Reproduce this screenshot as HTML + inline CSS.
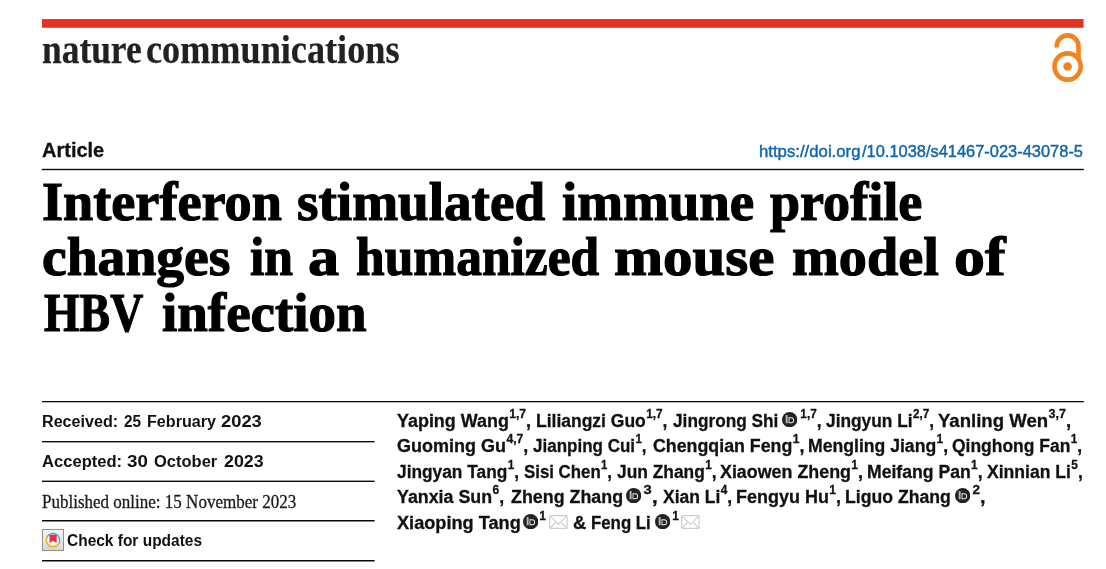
<!DOCTYPE html>
<html><head><meta charset="utf-8"><title>Article</title>
<style>
html,body{margin:0;padding:0;background:#fff;}
body{width:1106px;height:569px;position:relative;overflow:hidden;font-family:"Liberation Sans",sans-serif;}
.w{position:absolute;line-height:1;white-space:nowrap;transform-origin:0 0;}
.r{position:absolute;background:#0a0a0a;}
.w sup{font-size:12.7px;vertical-align:baseline;position:relative;top:-8.9px;line-height:0;margin-left:0.4px;}

</style></head><body>
<svg width="0" height="0" style="position:absolute"><defs>
<symbol id="orc" viewBox="0 0 15 15"><circle cx="7.5" cy="7.5" r="7.5" fill="#222"/><rect x="3.6" y="3" width="1.9" height="8" fill="#b8b8b8"/><path d="M6.4 5.2 H9 A2.9 2.9 0 0 1 9 11 H6.4 Z M7.3 6.1 V10.1 H9 A2 2 0 0 0 9 6.1 Z" fill="#efefef" fill-rule="evenodd"/></symbol>
<symbol id="env" viewBox="0 0 18.9 14.2"><rect x="0.7" y="0.7" width="17.5" height="12.8" rx="1.2" fill="#fff" stroke="#cfcfcf" stroke-width="1.3"/><path d="M1.2 1.2 L9.45 9.4 L17.7 1.2 M1.2 13 L6.4 7.8 M17.7 13 L12.5 7.8" fill="none" stroke="#cfcfcf" stroke-width="1.2"/></symbol>
</defs></svg>
<span class=w style='left:41.84px;top:29.00px;font-family:"Liberation Serif", serif;font-weight:bold;font-size:41px;color:#222;transform:scaleX(0.8632);-webkit-text-stroke:0.25px #222;filter:grayscale(1);'>nature</span>
<span class=w style='left:146.42px;top:29.00px;font-family:"Liberation Serif", serif;font-weight:bold;font-size:41px;color:#222;transform:scaleX(0.8832);-webkit-text-stroke:0.25px #222;filter:grayscale(1);'>communications</span>
<span class=w style='left:42.30px;top:140.00px;font-family:"Liberation Sans", sans-serif;font-weight:bold;font-size:20.2px;color:#111;transform:scaleX(0.9905);-webkit-text-stroke:0.3px #111;'>Article</span>
<span class=w style='left:759.30px;top:144.00px;font-family:"Liberation Sans", sans-serif;font-weight:normal;font-size:16.6px;color:#1267ad;transform:scaleX(1.0090);-webkit-text-stroke:0.45px #1267ad;'>https://doi.org</span>
<span class=w style='left:862.39px;top:144.00px;font-family:"Liberation Sans", sans-serif;font-weight:normal;font-size:16.6px;color:#1267ad;transform:scaleX(0.9897);-webkit-text-stroke:0.45px #1267ad;'>/10.1038/s41467-023-43078-5</span>
<span class=w style='left:42.03px;top:174.00px;font-family:"Liberation Serif", serif;font-weight:bold;font-size:55.8px;color:#000;transform:scaleX(0.9715);-webkit-text-stroke:1.2px #000;filter:grayscale(1);'>Interferon</span>
<span class=w style='left:296.61px;top:174.00px;font-family:"Liberation Serif", serif;font-weight:bold;font-size:55.8px;color:#000;transform:scaleX(0.9880);-webkit-text-stroke:1.2px #000;filter:grayscale(1);'>stimulated</span>
<span class=w style='left:562.30px;top:174.00px;font-family:"Liberation Serif", serif;font-weight:bold;font-size:55.8px;color:#000;transform:scaleX(0.9841);-webkit-text-stroke:1.2px #000;filter:grayscale(1);'>immune</span>
<span class=w style='left:770.30px;top:174.00px;font-family:"Liberation Serif", serif;font-weight:bold;font-size:55.8px;color:#000;transform:scaleX(0.9694);-webkit-text-stroke:1.2px #000;filter:grayscale(1);'>profile</span>
<span class=w style='left:42.40px;top:229.00px;font-family:"Liberation Serif", serif;font-weight:bold;font-size:55.8px;color:#000;transform:scaleX(0.9963);-webkit-text-stroke:1.2px #000;filter:grayscale(1);'>changes</span>
<span class=w style='left:250.10px;top:229.00px;font-family:"Liberation Serif", serif;font-weight:bold;font-size:55.8px;color:#000;transform:scaleX(0.9255);-webkit-text-stroke:1.2px #000;filter:grayscale(1);'>in</span>
<span class=w style='left:307.59px;top:229.00px;font-family:"Liberation Serif", serif;font-weight:bold;font-size:55.8px;color:#000;transform:scaleX(1.1148);-webkit-text-stroke:1.2px #000;filter:grayscale(1);'>a</span>
<span class=w style='left:355.50px;top:229.00px;font-family:"Liberation Serif", serif;font-weight:bold;font-size:55.8px;color:#000;transform:scaleX(0.9227);-webkit-text-stroke:1.2px #000;filter:grayscale(1);'>humanized</span>
<span class=w style='left:614.14px;top:229.00px;font-family:"Liberation Serif", serif;font-weight:bold;font-size:55.8px;color:#000;transform:scaleX(1.0560);-webkit-text-stroke:1.2px #000;filter:grayscale(1);'>mouse</span>
<span class=w style='left:791.99px;top:229.00px;font-family:"Liberation Serif", serif;font-weight:bold;font-size:55.8px;color:#000;transform:scaleX(1.0083);-webkit-text-stroke:1.2px #000;filter:grayscale(1);'>model</span>
<span class=w style='left:953.79px;top:229.00px;font-family:"Liberation Serif", serif;font-weight:bold;font-size:55.8px;color:#000;transform:scaleX(1.1085);-webkit-text-stroke:1.2px #000;filter:grayscale(1);'>of</span>
<span class=w style='left:44.40px;top:285.00px;font-family:"Liberation Serif", serif;font-weight:bold;font-size:55.8px;color:#000;transform:scaleX(0.8207);-webkit-text-stroke:1.2px #000;filter:grayscale(1);'>HBV</span>
<span class=w style='left:161.50px;top:285.00px;font-family:"Liberation Serif", serif;font-weight:bold;font-size:55.8px;color:#000;transform:scaleX(0.9856);-webkit-text-stroke:1.2px #000;filter:grayscale(1);'>infection</span>
<span class=w style='left:42.28px;top:414.00px;font-family:"Liberation Sans", sans-serif;font-weight:bold;font-size:15.8px;color:#111;transform:scaleX(1.0205);'>Received:</span>
<span class=w style='left:123.70px;top:414.00px;font-family:"Liberation Sans", sans-serif;font-weight:bold;font-size:15.8px;color:#111;transform:scaleX(0.9667);'>25</span>
<span class=w style='left:146.88px;top:414.00px;font-family:"Liberation Sans", sans-serif;font-weight:bold;font-size:15.8px;color:#111;transform:scaleX(1.0209);'>February</span>
<span class=w style='left:221.10px;top:414.00px;font-family:"Liberation Sans", sans-serif;font-weight:bold;font-size:15.8px;color:#111;transform:scaleX(1.1600);'>2023</span>
<span class=w style='left:42.30px;top:454.00px;font-family:"Liberation Sans", sans-serif;font-weight:bold;font-size:15.8px;color:#111;transform:scaleX(1.0493);'>Accepted:</span>
<span class=w style='left:127.10px;top:454.00px;font-family:"Liberation Sans", sans-serif;font-weight:bold;font-size:15.8px;color:#111;transform:scaleX(1.1882);'>30</span>
<span class=w style='left:154.10px;top:454.00px;font-family:"Liberation Sans", sans-serif;font-weight:bold;font-size:15.8px;color:#111;transform:scaleX(1.0443);'>October</span>
<span class=w style='left:223.60px;top:454.00px;font-family:"Liberation Sans", sans-serif;font-weight:bold;font-size:15.8px;color:#111;transform:scaleX(1.1257);'>2023</span>
<span class=w style='left:41.70px;top:493.00px;font-family:"Liberation Serif", serif;font-weight:normal;font-size:18.8px;color:#1a1a1a;transform:scaleX(0.9057);filter:grayscale(1);-webkit-text-stroke:0.3px #1a1a1a;'>Published online: 15 November 2023</span>
<span class=w style='left:67.20px;top:533.00px;font-family:"Liberation Sans", sans-serif;font-weight:bold;font-size:15.8px;color:#111;transform:scaleX(0.9797);'>Check for updates</span>
<span class=w style='left:396.60px;top:412.00px;font-family:"Liberation Sans", sans-serif;font-weight:bold;font-size:18.8px;color:#111;transform:scaleX(0.9543);-webkit-text-stroke:0.3px #111;'>Yaping Wang<sup>1,7</sup>,</span>
<span class=w style='left:536.07px;top:412.00px;font-family:"Liberation Sans", sans-serif;font-weight:bold;font-size:18.8px;color:#111;transform:scaleX(0.9314);-webkit-text-stroke:0.3px #111;'>Liliangzi Guo<sup>1,7</sup>,</span>
<span class=w style='left:672.90px;top:412.00px;font-family:"Liberation Sans", sans-serif;font-weight:bold;font-size:18.8px;color:#111;transform:scaleX(0.9184);-webkit-text-stroke:0.3px #111;'>Jingrong Shi</span>
<span class=w style='left:799.87px;top:412.00px;font-family:"Liberation Sans", sans-serif;font-weight:bold;font-size:18.8px;color:#111;transform:scaleX(0.9273);-webkit-text-stroke:0.3px #111;'><sup>1,7</sup>,</span>
<span class=w style='left:826.20px;top:412.00px;font-family:"Liberation Sans", sans-serif;font-weight:bold;font-size:18.8px;color:#111;transform:scaleX(0.9222);-webkit-text-stroke:0.3px #111;'>Jingyun Li<sup>2,7</sup>,</span>
<span class=w style='left:938.20px;top:412.00px;font-family:"Liberation Sans", sans-serif;font-weight:bold;font-size:18.8px;color:#111;transform:scaleX(0.9888);-webkit-text-stroke:0.3px #111;'>Yanling Wen<sup>3,7</sup>,</span>
<span class=w style='left:396.60px;top:437.00px;font-family:"Liberation Sans", sans-serif;font-weight:bold;font-size:18.8px;color:#111;transform:scaleX(0.9591);-webkit-text-stroke:0.3px #111;'>Guoming Gu<sup>4,7</sup>,</span>
<span class=w style='left:533.40px;top:437.00px;font-family:"Liberation Sans", sans-serif;font-weight:bold;font-size:18.8px;color:#111;transform:scaleX(0.9056);-webkit-text-stroke:0.3px #111;'>Jianping Cui<sup>1</sup>,</span>
<span class=w style='left:652.60px;top:437.00px;font-family:"Liberation Sans", sans-serif;font-weight:bold;font-size:18.8px;color:#111;transform:scaleX(0.9472);-webkit-text-stroke:0.3px #111;'>Chengqian Feng<sup>1</sup>,</span>
<span class=w style='left:807.56px;top:437.00px;font-family:"Liberation Sans", sans-serif;font-weight:bold;font-size:18.8px;color:#111;transform:scaleX(0.9378);-webkit-text-stroke:0.3px #111;'>Mengling Jiang<sup>1</sup>,</span>
<span class=w style='left:952.10px;top:437.00px;font-family:"Liberation Sans", sans-serif;font-weight:bold;font-size:18.8px;color:#111;transform:scaleX(0.9300);-webkit-text-stroke:0.3px #111;'>Qinghong Fan<sup>1</sup>,</span>
<span class=w style='left:396.60px;top:463.00px;font-family:"Liberation Sans", sans-serif;font-weight:bold;font-size:18.8px;color:#111;transform:scaleX(0.9220);-webkit-text-stroke:0.3px #111;'>Jingyan Tang<sup>1</sup>,</span>
<span class=w style='left:523.60px;top:463.00px;font-family:"Liberation Sans", sans-serif;font-weight:bold;font-size:18.8px;color:#111;transform:scaleX(0.8959);-webkit-text-stroke:0.3px #111;'>Sisi Chen<sup>1</sup>,</span>
<span class=w style='left:616.50px;top:463.00px;font-family:"Liberation Sans", sans-serif;font-weight:bold;font-size:18.8px;color:#111;transform:scaleX(0.9243);-webkit-text-stroke:0.3px #111;'>Jun Zhang<sup>1</sup>,</span>
<span class=w style='left:720.00px;top:463.00px;font-family:"Liberation Sans", sans-serif;font-weight:bold;font-size:18.8px;color:#111;transform:scaleX(0.9507);-webkit-text-stroke:0.3px #111;'>Xiaowen Zheng<sup>1</sup>,</span>
<span class=w style='left:867.16px;top:463.00px;font-family:"Liberation Sans", sans-serif;font-weight:bold;font-size:18.8px;color:#111;transform:scaleX(0.9377);-webkit-text-stroke:0.3px #111;'>Meifang Pan<sup>1</sup>,</span>
<span class=w style='left:986.90px;top:463.00px;font-family:"Liberation Sans", sans-serif;font-weight:bold;font-size:18.8px;color:#111;transform:scaleX(0.9353);-webkit-text-stroke:0.3px #111;'>Xinnian Li<sup>5</sup>,</span>
<span class=w style='left:396.60px;top:488.00px;font-family:"Liberation Sans", sans-serif;font-weight:bold;font-size:18.8px;color:#111;transform:scaleX(0.9487);-webkit-text-stroke:0.3px #111;'>Yanxia Sun<sup>6</sup>,</span>
<span class=w style='left:510.70px;top:488.00px;font-family:"Liberation Sans", sans-serif;font-weight:bold;font-size:18.8px;color:#111;transform:scaleX(0.9504);-webkit-text-stroke:0.3px #111;'>Zheng Zhang</span>
<span class=w style='left:643.00px;top:488.00px;font-family:"Liberation Sans", sans-serif;font-weight:bold;font-size:18.8px;color:#111;transform:scaleX(1.1583);-webkit-text-stroke:0.3px #111;'><sup>3</sup>,</span>
<span class=w style='left:662.60px;top:488.00px;font-family:"Liberation Sans", sans-serif;font-weight:bold;font-size:18.8px;color:#111;transform:scaleX(0.9311);-webkit-text-stroke:0.3px #111;'>Xian Li<sup>4</sup>,</span>
<span class=w style='left:736.24px;top:488.00px;font-family:"Liberation Sans", sans-serif;font-weight:bold;font-size:18.8px;color:#111;transform:scaleX(0.9574);-webkit-text-stroke:0.3px #111;'>Fengyu Hu<sup>1</sup>,</span>
<span class=w style='left:844.96px;top:488.00px;font-family:"Liberation Sans", sans-serif;font-weight:bold;font-size:18.8px;color:#111;transform:scaleX(0.9396);-webkit-text-stroke:0.3px #111;'>Liguo Zhang</span>
<span class=w style='left:971.70px;top:488.00px;font-family:"Liberation Sans", sans-serif;font-weight:bold;font-size:18.8px;color:#111;transform:scaleX(1.0583);-webkit-text-stroke:0.3px #111;'><sup>2</sup>,</span>
<span class=w style='left:396.60px;top:514.00px;font-family:"Liberation Sans", sans-serif;font-weight:bold;font-size:18.8px;color:#111;transform:scaleX(0.9669);-webkit-text-stroke:0.3px #111;'>Xiaoping Tang</span>
<span class=w style='left:539.45px;top:514.00px;font-family:"Liberation Sans", sans-serif;font-weight:bold;font-size:18.8px;color:#111;transform:scaleX(0.9500);-webkit-text-stroke:0.3px #111;'><sup>1</sup></span>
<span class=w style='left:572.70px;top:514.00px;font-family:"Liberation Sans", sans-serif;font-weight:bold;font-size:18.8px;color:#111;transform:scaleX(0.9714);-webkit-text-stroke:0.3px #111;'>&amp;</span>
<span class=w style='left:591.10px;top:514.00px;font-family:"Liberation Sans", sans-serif;font-weight:bold;font-size:18.8px;color:#111;transform:scaleX(0.8954);-webkit-text-stroke:0.3px #111;'>Feng Li</span>
<span class=w style='left:671.75px;top:514.00px;font-family:"Liberation Sans", sans-serif;font-weight:bold;font-size:18.8px;color:#111;transform:scaleX(0.9500);-webkit-text-stroke:0.3px #111;'><sup>1</sup></span>
<svg style="position:absolute;left:782.4px;top:411.70px" width="15.3" height="15.3"><use href="#orc"/></svg>
<svg style="position:absolute;left:625.6px;top:487.70px" width="15.3" height="15.3"><use href="#orc"/></svg>
<svg style="position:absolute;left:954.6px;top:487.70px" width="15.3" height="15.3"><use href="#orc"/></svg>
<svg style="position:absolute;left:523.3px;top:513.70px" width="15.3" height="15.3"><use href="#orc"/></svg>
<svg style="position:absolute;left:549.1px;top:514.90px" width="18.9" height="14.2"><use href="#env"/></svg>
<svg style="position:absolute;left:654.6px;top:513.70px" width="15.3" height="15.3"><use href="#orc"/></svg>
<svg style="position:absolute;left:681.2px;top:514.90px" width="18.9" height="14.2"><use href="#env"/></svg>
<svg style="position:absolute;left:0;top:0" width="1106" height="569" viewBox="0 0 1106 569">
<rect x="42" y="19.06" width="1041.56" height="8.71" fill="#e43122"/>
<g fill="#0a0a0a">
<rect x="41.8" y="168.8" width="1042" height="1.4"/>
<rect x="42" y="401" width="1041.8" height="1.28"/>
<rect x="42" y="441" width="332.66" height="1.36"/>
<rect x="42" y="480.6" width="332.66" height="1.4"/>
<rect x="42" y="520" width="332.66" height="1.5"/>
<rect x="42" y="560" width="332.66" height="1.5"/>
</g>
</svg>
<svg style="position:absolute;left:1050px;top:30px" width="36" height="54" viewBox="0 0 36 54">
<circle cx="17.6" cy="36.5" r="13.1" fill="none" stroke="#f58220" stroke-width="4.6"/>
<circle cx="17.6" cy="36.5" r="4.3" fill="#f58220"/>
<path d="M6.7 17.6 V16.3 A10.9 10.9 0 0 1 28.5 16.3 V28" fill="none" stroke="#f58220" stroke-width="4.6"/>
</svg>
<!-- check for updates icon -->
<svg style="position:absolute;left:42px;top:529px" width="22" height="22" viewBox="0 0 22 22">
<defs><linearGradient id="gg" x1="0" y1="0" x2="0" y2="1"><stop offset="0" stop-color="#f6f6f6"/><stop offset="1" stop-color="#d6d6d6"/></linearGradient></defs>
<rect x="0.5" y="0.5" width="21" height="21" fill="url(#gg)" stroke="#8f8f8f"/>
<circle cx="10.9" cy="11.3" r="6.7" fill="#fff"/>
<path d="M5.10 7.95 A6.7 6.7 0 0 1 16.87 14.34" fill="none" stroke="#45a6d8" stroke-width="1.5"/>
<path d="M5.10 7.95 A6.7 6.7 0 0 0 16.87 14.34" fill="none" stroke="#f4b81f" stroke-width="1.9"/>
<path d="M7.5 5.8 H14.7 V14.1 L11.1 12 L7.5 14.1 Z" fill="#ea3340"/>
</svg>

</body></html>
